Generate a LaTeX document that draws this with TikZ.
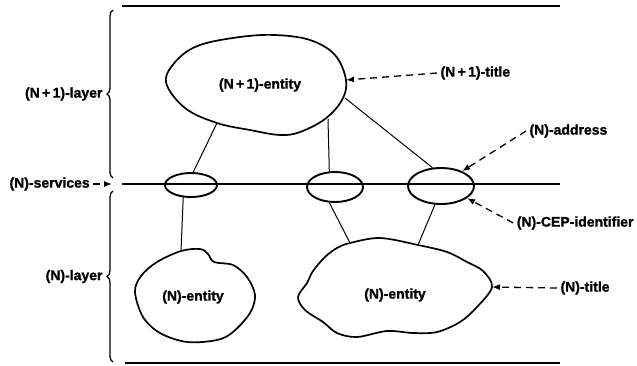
\documentclass[tikz,border=0pt]{standalone}
\usepackage{fontspec}
\setmainfont{Liberation Sans}[FakeBold=1.2]
\usetikzlibrary{shapes.geometric,decorations.pathreplacing,arrows.meta}

\begin{document}
\begin{tikzpicture}[x=1pt,y=-1pt,
  layerline/.style={line width=2pt},
  blob/.style={line width=1.7pt},
  sap/.style={draw,ellipse,line width=1.9pt,inner sep=0pt,fill=none},
  link/.style={line width=1pt},
  pointer/.style={line width=1.3pt,dash pattern=on 7pt off 5pt,-{Latex[length=8pt,width=6pt]}},
  layerbrace/.style={decorate,decoration={brace,amplitude=6pt},line width=1.3pt},
  every node/.style={font=\fontsize{14}{16}\selectfont\bfseries}]

\useasboundingbox (0,0) rectangle (637,365);

\coordinate (TL) at (122,6);
\coordinate (TR) at (560,6);
\coordinate (ML) at (122,184);
\coordinate (MR) at (560,184);
\coordinate (BL) at (125,363);
\coordinate (BR) at (560,363);
\coordinate (SV) at (112,184);
\coordinate (U1) at (217,123);
\coordinate (U2) at (328,119);
\coordinate (U3) at (345,98);
\coordinate (UT) at (346,80);
\coordinate (L1) at (181,251);
\coordinate (L2) at (350,243);
\coordinate (L3) at (418,245);
\coordinate (LT) at (492,287);

\draw [layerline] (TL)--(TR);
\draw [layerline] (ML)--(MR);
\draw [layerline] (BL)--(BR);

\draw [layerbrace] (113,178)--(113,10) coordinate [midway,xshift=-7pt] (B1);
\draw [layerbrace] (113,362)--(113,191) coordinate [midway,xshift=-7pt] (B2);
\node [left] (nl1) at (B1) {(N\,+\,1)-layer};
\node [left] (nl0) at (B2) {(N)-layer};

\draw [blob] plot [smooth cycle,tension=0.6] coordinates {(166,82) (177,60) (200,45) (240,37) (275,35) (310,40) (335,55) (346,80) (342,100) (325,119) (300,132) (280,135) (250,130) (217,123) (185,108)};
\draw [blob] plot [smooth cycle,tension=0.55] coordinates {(181,251) (200,249) (208,254) (214,262) (233,265) (247,277) (255,295) (250,313) (233,332) (217,340) (187,342) (160,333) (143,317) (135,292) (141,276) (157,262)};
\draw [blob] plot [smooth cycle,tension=0.55] coordinates {(350,243) (380,238) (418,245) (447,252) (467,262) (483,271) (492,287) (477,307) (460,322) (437,332) (413,333) (387,331) (357,337) (337,333) (323,322) (305,310) (298,297) (307,283) (313,271) (325,257) (337,248)};

\node (e1) at (260,85) {(N\,+\,1)-entity};
\node (n1) at (193,297) {(N)-entity};
\node (n2) at (395,295) {(N)-entity};

\node [sap,minimum width=52pt,minimum height=24pt] (sap1) at (191,185) {};
\node [sap,minimum width=56pt,minimum height=30pt] (sap2) at (335,187) {};
\node [sap,minimum width=66pt,minimum height=36pt] (sap3) at (441,186) {};

\draw [link] (U1)--(sap1.80);
\draw [link] (U2)--(sap2.110);
\draw [link] (U3)--(sap3.115);
\draw [link] (sap1.238)--(L1);
\draw [link] (sap2.250)--(L2);
\draw [link] (sap3.252)--(L3);

\node [anchor=west] (sv) at (6,184) {(N)-services};
\node [anchor=west] (t1) at (437,73) {(N\,+\,1)-title};
\node [anchor=west] (ad) at (526,131) {(N)-address};
\node [anchor=east] (cep) at (637,223) {(N)-CEP-identifier};
\node [anchor=west] (t0) at (557,288) {(N)-title};

\draw [pointer] (sv.east)--(SV);
\draw [pointer] (t1.west)--(UT);
\draw [pointer] (ad.west)--(sap3.35);
\draw [pointer] (cep.west)--(sap3.-25);
\draw [pointer] (t0.west)--(LT);
\end{tikzpicture}
\end{document}
